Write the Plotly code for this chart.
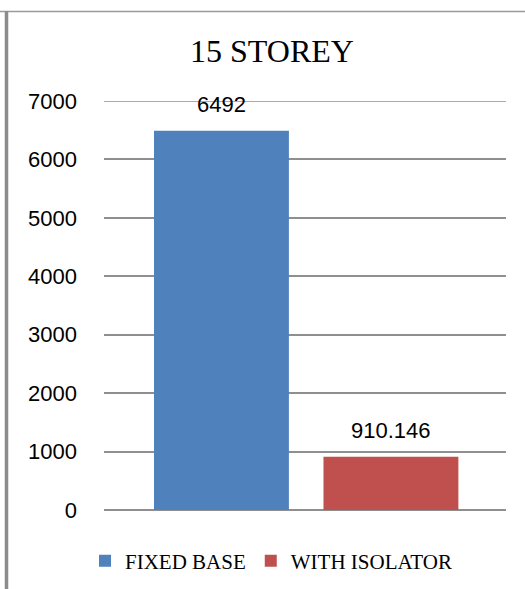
import plotly.graph_objects as go

title = "15 STOREY"
series_names = ["FIXED BASE", "WITH ISOLATOR"]
series_values = [6492, 910.146]
series_colors = ["#4F81BD", "#C0504D"]
y_ticks = [0, 1000, 2000, 3000, 4000, 5000, 6000, 7000]

W, H = 525, 589
L, R, T, B = 104, 506, 101, 510  # plot area in px

fig = go.Figure()
for name, val, col in zip(series_names, series_values, series_colors):
    fig.add_trace(go.Bar(
        x=[name], y=[val], name=name,
        marker=dict(color=col, line=dict(width=0)),
        width=0.796,
    ))
    fig.add_annotation(
        x=name, y=val, text=f"{val:g}", showarrow=False,
        yshift=26, font=dict(family="Liberation Sans, Arial", size=22, color="#000"),
    )

def px_x(p):
    return (p - L) / (R - L)

def px_y(p):
    return (B - p) / (B - T)

GRID = "#8f8f8f"

# frame lines (top and left)
fig.add_shape(type="line", xref="paper", yref="paper",
              x0=px_x(0), x1=px_x(W), y0=px_y(11.5), y1=px_y(11.5),
              line=dict(color="#9a9a9a", width=1.5))
fig.add_shape(type="line", xref="paper", yref="paper",
              x0=px_x(6.5), x1=px_x(6.5), y0=px_y(11), y1=px_y(H + 5),
              line=dict(color="#8c8c8c", width=3.5))
# top gridline (plotly drops the grid line at the range edge)
fig.add_shape(type="line", xref="paper", yref="y", layer="below",
              x0=0, x1=1, y0=max(y_ticks), y1=max(y_ticks),
              line=dict(color=GRID, width=1.6))

fig.update_layout(
    template="plotly",
    width=W, height=H,
    margin=dict(l=L, r=W - R, t=T, b=H - B, pad=0, autoexpand=False),
    paper_bgcolor="white", plot_bgcolor="white",
    barmode="overlay",
    title=dict(text=title, x=272 / W, xanchor="center", y=1 - 51 / H, yanchor="middle",
               yref="container",
               font=dict(family="Liberation Serif, Times New Roman", size=32, color="#000")),
    xaxis=dict(type="category", range=[-0.693, 1.679], showticklabels=False, automargin=False,
               showgrid=False, zeroline=False, showline=False, ticks=""),
    yaxis=dict(range=[0, 7000], tickvals=y_ticks, showgrid=True, gridcolor=GRID,
               gridwidth=1.6, zeroline=True, zerolinecolor=GRID, zerolinewidth=1.6,
               showline=False, ticks="", layer="below traces", automargin=False,
               ticklabelstandoff=26,
               tickfont=dict(family="Liberation Sans, Arial", size=22, color="#000")),
    showlegend=True,
    legend=dict(orientation="h", x=85 / W, xanchor="left", xref="container",
                y=1 - 561 / H, yanchor="middle", yref="container",
                font=dict(family="Liberation Serif, Times New Roman", size=21, color="#000"),
                bgcolor="rgba(0,0,0,0)", itemclick=False, traceorder="normal"),
)

fig.write_html(
    "out.html",
    config={"displayModeBar": False},
    post_script="document.body.style.margin='0';document.body.style.padding='0';",
)
